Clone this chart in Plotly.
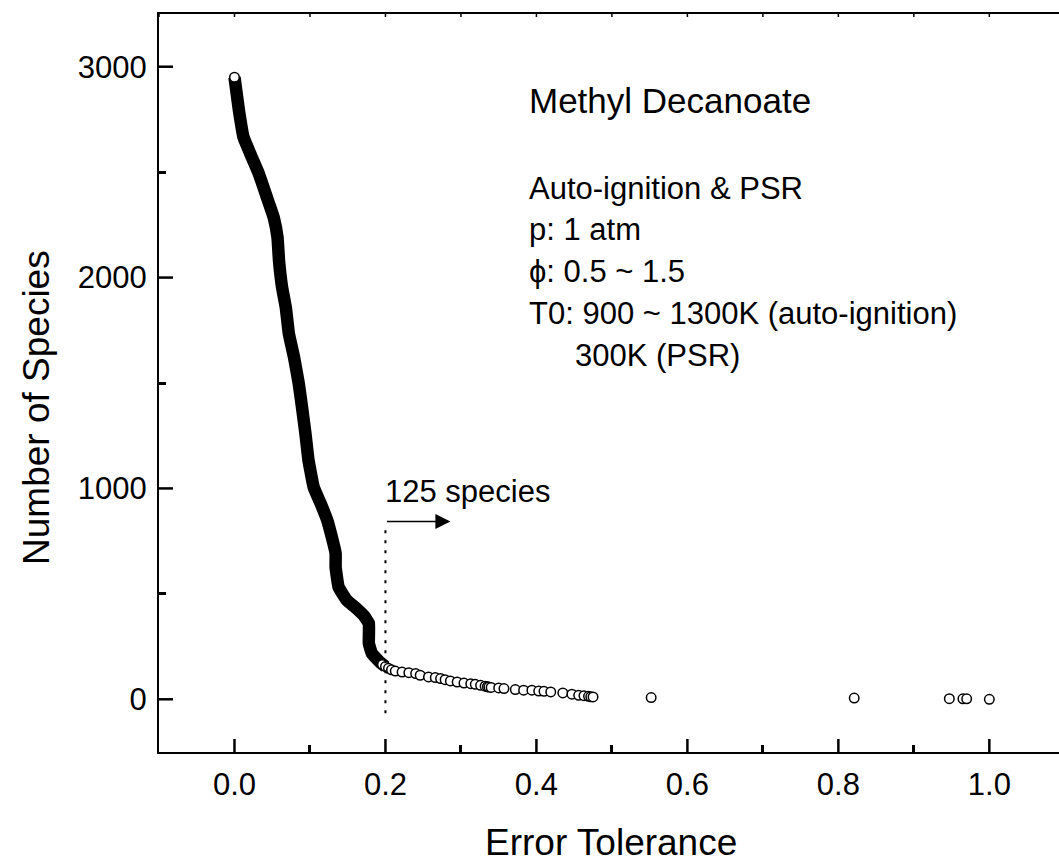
import plotly.graph_objects as go

# Dense part of the curve (thousands of overlapping circles -> drawn as thick band)
dense_x = [0.000, 0.006, 0.012, 0.023, 0.032, 0.043, 0.052, 0.057, 0.059, 0.063,
           0.068, 0.072, 0.079, 0.085, 0.090, 0.094, 0.098, 0.105, 0.114, 0.123,
           0.129, 0.134, 0.134, 0.138, 0.149, 0.160, 0.171, 0.178, 0.178, 0.182,
           0.193, 0.200]
dense_y = [2950, 2790, 2665, 2570, 2495, 2380, 2285, 2190, 2080, 1955,
           1858, 1735, 1620, 1500, 1370, 1260, 1135, 1005, 930, 848,
           768, 692, 626, 531, 469, 436, 398, 360, 265, 218,
           175, 155]

# Individually visible circles
sparse_x = [0.000, 0.196, 0.200, 0.204, 0.208, 0.213, 0.222, 0.231, 0.240, 0.246,
            0.257, 0.266, 0.273, 0.279, 0.286, 0.295, 0.304, 0.313, 0.319, 0.326,
            0.332, 0.335, 0.337, 0.340, 0.350, 0.357, 0.372, 0.383, 0.394, 0.403,
            0.410, 0.419, 0.435, 0.447, 0.456, 0.463, 0.469, 0.472, 0.475, 0.552,
            0.821, 0.947, 0.965, 0.970, 1.000]
sparse_y = [2950, 165, 155, 147, 140, 134, 129, 126, 122, 114,
            106, 103, 98, 93, 87, 82, 77, 74, 71, 66,
            62, 60, 58, 56, 54, 51, 46, 43, 43, 39,
            38, 35, 30, 24, 19, 17, 14, 12, 11, 8,
            6, 3, 2, 2, 0]

x_ticks = [0.0, 0.2, 0.4, 0.6, 0.8, 1.0]
x_ticklabels = ["0.0", "0.2", "0.4", "0.6", "0.8", "1.0"]
x_minor_ticks = [-0.1, 0.1, 0.3, 0.5, 0.7, 0.9]
y_ticks = [0, 1000, 2000, 3000]
y_ticklabels = ["0", "1000", "2000", "3000"]
y_minor_ticks = [500, 1500, 2500]

cutoff_x = 0.2
cutoff_label = "125 species"
title_text = "Methyl Decanoate"
info_lines = ["Auto-ignition & PSR", "p: 1 atm", "ϕ: 0.5 ~ 1.5",
              "T0: 900 ~ 1300K (auto-ignition)"]
info_y = [2422, 2227, 2028, 1829]
extra_line = "300K (PSR)"

FONT = "Liberation Sans, Arial, sans-serif"

W, H = 1059, 863
ML, MR, MT, MB = 159, 0, 14, 111
PW, PH = W - ML - MR, H - MT - MB

fig = go.Figure()
fig.add_trace(go.Scatter(x=dense_x, y=dense_y, mode="lines",
                         line=dict(color="black", width=12.5, shape="spline", smoothing=0.3),
                         hoverinfo="skip", showlegend=False))
fig.add_trace(go.Scatter(x=sparse_x, y=sparse_y, mode="markers",
                         marker=dict(symbol="circle", size=9.5, color="white",
                                     line=dict(color="black", width=1.5)),
                         showlegend=False))
# dummy traces so the minor-tick axes are drawn
for xa, ya in [("x4", "y"), ("x", "y3")]:
    fig.add_trace(go.Scatter(x=[None], y=[None], xaxis=xa, yaxis=ya,
                             showlegend=False, hoverinfo="skip"))

# major ticks (inside), one per labelled tick value
for v in x_ticks:
    fig.add_shape(type="line", xref="x", yref="paper", x0=v, x1=v,
                  y0=0, y1=13 / PH, line=dict(color="black", width=2.5))
    fig.add_shape(type="line", xref="x", yref="paper", x0=v, x1=v,
                  y0=1, y1=1 - 3 / PH, line=dict(color="black", width=1.5))
for v in x_minor_ticks:
    fig.add_shape(type="line", xref="x", yref="paper", x0=v, x1=v,
                  y0=1, y1=1 - 3 / PH, line=dict(color="black", width=1.5))
for v in y_ticks:
    fig.add_shape(type="line", xref="paper", yref="y", x0=0, x1=14 / PW,
                  y0=v, y1=v, line=dict(color="black", width=2.5))

fig.add_shape(type="line", x0=cutoff_x, x1=cutoff_x, y0=-66, y1=815,
              xref="x", yref="y", line=dict(color="black", width=2, dash="3px,7px"))

fig.add_annotation(x=0.286, y=843, ax=cutoff_x, ay=843, xref="x", yref="y",
                   axref="x", ayref="y", showarrow=True, arrowhead=2,
                   arrowsize=2, arrowwidth=1.5, arrowcolor="black", text="")
fig.add_annotation(x=0.197, y=986, xref="x", yref="y", text=cutoff_label,
                   showarrow=False, xanchor="left", yanchor="middle",
                   font=dict(family=FONT, size=31, color="black"))

fig.add_annotation(x=0.388, y=2839, xref="x", yref="y", text=title_text,
                   showarrow=False, xanchor="left", yanchor="middle",
                   font=dict(family=FONT, size=35, color="black"))
for t, yy in zip(info_lines, info_y):
    fig.add_annotation(x=0.388, y=yy, xref="x", yref="y", text=t,
                       showarrow=False, xanchor="left", yanchor="middle",
                       font=dict(family=FONT, size=31, color="black"))
fig.add_annotation(x=0.449, y=1630, xref="x", yref="y", text=extra_line,
                   showarrow=False, xanchor="left", yanchor="middle",
                   font=dict(family=FONT, size=31, color="black"))

# axis titles
fig.add_annotation(x=0.502, y=-0.122, xref="paper", yref="paper",
                   text="Error Tolerance", showarrow=False,
                   xanchor="center", yanchor="middle",
                   font=dict(family=FONT, size=37, color="black"))
fig.add_annotation(x=-0.1356, y=0.4675, xref="paper", yref="paper",
                   text="Number of Species", showarrow=False, textangle=-90,
                   xanchor="center", yanchor="middle",
                   font=dict(family=FONT, size=37, color="black"))

xr = [-0.1, 1.0923]
yr = [-250, 3250]


def tick_axis(rng, over, side, anchor, vals, length):
    return dict(range=rng, overlaying=over, side=side, anchor=anchor,
                showgrid=False, zeroline=False, showline=False,
                ticks="inside", ticklen=length, tickwidth=2.5,
                tickcolor="black", tickmode="array", tickvals=vals,
                showticklabels=False)


fig.update_layout(
    width=W, height=H, showlegend=False,
    margin=dict(l=ML, r=MR, t=MT, b=MB),
    paper_bgcolor="white", plot_bgcolor="white",
    font=dict(family=FONT, color="black"),
    xaxis=dict(range=xr, showgrid=False, zeroline=False, showline=True,
               mirror=True, linecolor="black", linewidth=2,
               ticks="outside", ticklen=4, tickwidth=1,
               tickcolor="rgba(255,255,255,0)",
               tickmode="array", tickvals=x_ticks, ticktext=x_ticklabels,
               tickfont=dict(size=31, family=FONT, color="black")),
    xaxis4=tick_axis(xr, "x", "bottom", "y", x_minor_ticks, 7),
    yaxis=dict(range=yr, showgrid=False, zeroline=False,
               showline=True, linecolor="black", linewidth=2,
               ticks="outside", ticklen=4, tickwidth=1,
               tickcolor="rgba(255,255,255,0)",
               tickmode="array", tickvals=y_ticks, ticktext=y_ticklabels,
               tickfont=dict(size=31, family=FONT, color="black")),
    yaxis3=tick_axis(yr, "y", "left", "x", y_minor_ticks, 7),
)

fig.write_html("out.html", config={"displayModeBar": False},
               post_script="document.body.style.margin='0';")
